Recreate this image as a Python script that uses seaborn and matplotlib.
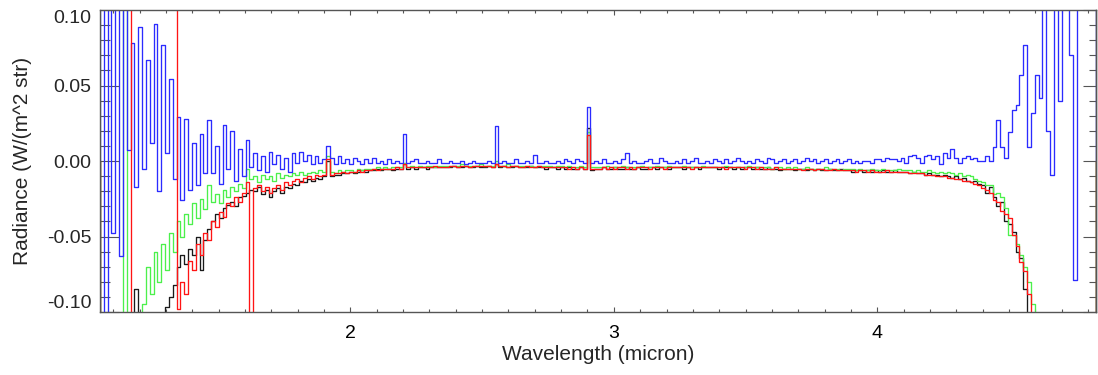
import numpy as np
import pandas as pd
import seaborn as sns
import matplotlib.pyplot as plt
from matplotlib.ticker import MultipleLocator

# Channel grid (micron): first visible channel starts at wl_start
wl_start = 1.05
wl_step = 0.014538
n_chan = 260

# Radiance per channel in 1e-3 W/(m^2 str); first and last entry are zero padding
black_mr = [0,
    -150, -150, -150, -150, -150, -150, -150, -150, -150, -85,
    -150, -150, -150, -150, -150, -150, -150, -97, -90, -82,
    -70, -62, -68, -58, -62, -50, -72, -52, -45, -40,
    -35, -38, -31, -29, -27, -30, -24, -23, -21, -19,
    -20, -17, -22, -19, -24, -20, -18, -21, -17, -18,
    -15, -16, -13, -14, -12, -13, -11, -12, -10, 0,
    -10, -9, -9, -8, -8, -7, -8, -7, -6, -7,
    -6, -6, -5, -6, -5, -5, -6, -5, -5, -2,
    -5, -4, -5, -4, -4, -5, -4, -4, -4, -4,
    -4, -4, -3, -4, -4, -3, -4, -4, -3, -4,
    -4, -3, -4, -2, -4, -3, -4, -4, -3, -4,
    -4, -4, -3, -4, -4, -4, -5, -4, -4, -5,
    -4, -5, -4, -5, -5, -4, -5, 22, -6, -5,
    -5, -4, -5, -5, -4, -5, -5, -4, -5, -5,
    -4, -5, -5, -4, -4, -5, -4, -4, -5, -4,
    -4, -4, -5, -4, -4, -4, -5, -4, -4, -4,
    -4, -5, -4, -4, -4, -5, -4, -5, -4, -4,
    -5, -4, -5, -5, -4, -5, -5, -6, -5, -5,
    -5, -6, -5, -5, -6, -5, -6, -5, -6, -6,
    -5, -6, -6, -5, -6, -6, -7, -6, -6, -7,
    -6, -7, -6, -7, -6, -7, -7, -6, -7, -7,
    -7, -8, -7, -8, -8, -9, -8, -9, -9, -10,
    -9, -10, -11, -10, -12, -11, -13, -14, -13, -15,
    -16, -21, -17, -24, -30, -27, -40, -42, -47, -60,
    -64, -85, -130, -150, -150, -150, -150, -150, -150, -150,
    -150, -150, -150, -150, -150, -150, -150, -150, -150, -150,
    0]

green_mr = [0,
    -150, -150, -150, -150, -150, -150, 150, -150, -150, -150,
    -150, -95, -70, -88, -60, -80, -55, -72, -48, -60,
    -40, -50, -35, -42, -28, -38, -25, -32, -16, -27,
    -22, -28, -19, -24, -17, -20, -15, -18, -5, -12,
    -10, -14, -9, -12, -10, -13, -8, -11, -9, -10,
    -8, -9, -7, -9, -8, -7, -8, -6, -7, 3,
    -7, -8, -6, -7, -6, -6, -7, -5, -6, -5,
    -5, -5, -4, -5, -4, -5, -4, -4, -4, -1,
    -4, -3, -4, -3, -4, -3, -3, -4, -3, -3,
    -3, -3, -3, -3, -2, -3, -3, -3, -3, -2,
    -3, -3, -3, 0, -3, -3, -2, -3, -3, -3,
    -3, -3, -3, -4, -3, -3, -3, -3, -4, -3,
    -3, -4, -3, -4, -4, -3, -4, 19, -4, -4,
    -4, -4, -3, -4, -4, -4, -3, -4, -4, -4,
    -4, -3, -4, -4, -4, -3, -4, -4, -3, -4,
    -4, -4, -3, -4, -4, -4, -4, -3, -4, -4,
    -4, -4, -4, -3, -4, -4, -4, -4, -4, -3,
    -4, -4, -4, -4, -4, -5, -4, -4, -5, -4,
    -5, -4, -5, -5, -4, -5, -5, -5, -5, -4,
    -5, -5, -5, -6, -5, -5, -5, -6, -5, -6,
    -6, -5, -6, -6, -5, -6, -6, -6, -5, -6,
    -6, -6, -7, -6, -7, -7, -6, -7, -8, -7,
    -8, -7, -8, -9, -8, -10, -9, -10, -12, -13,
    -14, -16, -16, -22, -21, -24, -31, -49, -49, -55,
    -62, -70, -80, -95, -130, -150, -150, -150, -150, -150,
    -150, -150, -150, -150, -150, -150, -150, -150, -150, -150,
    0]

blue_mr = [0,
    180, -160, 170, -48, 140, -63, 130, 7, 78, -17,
    89, -5, 67, 12, 91, -20, 77, 5, 54, -12,
    29, -26, 28, -19, 12, -16, 18, -8, 27, -8,
    10, -15, 24, -5, 20, -13, 8, -10, 14, -4,
    5, -6, 3, -7, 6, -2, 4, -5, 2, -7,
    5, -1, 6, 0, 4, -2, 3, -1, 1, 10,
    2, -2, 3, -1, 1, -2, 2, 0, -2, 1,
    -1, 2, -1, 0, -2, 1, -1, 0, -1, 18,
    -1, 0, 1, -1, -1, 0, -1, -1, 1, -1,
    -1, 0, -1, -1, 0, -2, -1, 0, -1, -1,
    -1, 0, -1, 23, -1, 0, -1, -1, 1, -1,
    -1, 0, -1, 4, -1, -1, 0, -1, -1, 0,
    -1, 1, 0, -1, 1, 0, -1, 36, -1, 0,
    -1, 1, -1, -1, 0, -1, 1, 5, -1, 0,
    -1, -1, 0, 1, -1, -1, 2, 0, -1, -1,
    0, -1, 1, -1, 0, 2, -1, -1, 0, -1,
    1, 0, -1, 1, -1, 0, 2, 0, -1, 0,
    -1, 1, 0, -1, 2, 1, -1, 0, 1, -1,
    0, 1, -1, 0, 2, 0, 1, -1, 0, 1,
    -1, 0, 1, -1, 0, 1, -1, 0, -1, 0,
    0, -1, 1, 1, 0, 2, 1, 1, 0, 2,
    -1, 3, 4, 2, -1, 3, 4, 1, 3, -2,
    5, 2, 8, 2, -1, 2, 3, 1, 2, 0,
    0, 3, 0, 9, 27, 9, 2, 19, 34, 37,
    57, 77, 9, 32, 57, 42, 130, 20, -9, 150,
    40, 150, 140, 70, -79, 150, 160, 150, 170, 150,
    0]

red_mr = [0,
    -150, -150, -150, -150, -150, -150, -150, -150, 150, 150,
    150, 150, 150, 150, 150, 150, 150, 150, 150, 150,
    -98, -80, -88, -66, -72, -55, -62, -48, -52, -40,
    -44, -34, -37, -28, -30, -24, -27, -21, -14, -150,
    -18, -16, -20, -17, -21, -18, -16, -19, -14, -16,
    -13, -12, -14, -11, -10, -12, -9, -10, -9, 1,
    -9, -8, -8, -7, -8, -7, -7, -6, -7, -6,
    -6, -5, -6, -5, -5, -5, -5, -4, -5, -2,
    -4, -4, -4, -4, -4, -4, -4, -3, -4, -4,
    -4, -3, -3, -4, -3, -3, -4, -3, -3, -3,
    -3, -3, -4, -2, -3, -3, -4, -3, -3, -4,
    -4, -3, -4, -4, -3, -4, -4, -4, -4, -4,
    -4, -4, -5, -4, -5, -4, -5, 17, -5, -5,
    -5, -4, -5, -4, -5, -4, -4, -5, -4, -5,
    -4, -4, -4, -5, -4, -4, -4, -5, -4, -4,
    -4, -4, -4, -4, -5, -4, -4, -4, -4, -4,
    -4, -4, -4, -5, -4, -4, -4, -4, -5, -4,
    -4, -5, -4, -5, -5, -5, -4, -5, -5, -5,
    -5, -5, -5, -6, -5, -5, -6, -5, -5, -6,
    -6, -5, -6, -6, -6, -6, -6, -7, -6, -6,
    -7, -6, -7, -7, -7, -6, -7, -7, -7, -7,
    -7, -8, -8, -8, -8, -9, -9, -9, -10, -10,
    -10, -11, -11, -12, -12, -13, -13, -14, -15, -16,
    -18, -19, -21, -26, -27, -33, -35, -38, -49, -56,
    -67, -73, -88, -130, -150, -150, -150, -150, -150, -150,
    -150, -150, -150, -150, -150, -150, -150, -150, -150, -150,
    0]

series_names = ['black', 'green', 'blue', 'red']
series_colors = {'black': '#1a1a1a', 'green': '#4cf04c', 'blue': '#2b2bff', 'red': '#ff1414'}

# channel centres, including one padding channel on each side
centers = wl_start + wl_step * (np.arange(n_chan + 2) - 0.5)

frames = []
for name, vals in zip(series_names, [black_mr, green_mr, blue_mr, red_mr]):
    frames.append(pd.DataFrame({
        'Wavelength': centers,
        'Radiance': np.array(vals) / 1000.0,
        'series': name,
    }))
data = pd.concat(frames, ignore_index=True)

sns.set_style("white")
plt.rcParams['font.family'] = ['Liberation Sans', 'DejaVu Sans']

fig = plt.figure(figsize=(10.98, 3.75), dpi=100)
ax = fig.add_axes([100 / 1098, 1 - 312 / 375, 996 / 1098, 302 / 375])

sns.lineplot(data=data, x='Wavelength', y='Radiance', hue='series',
             hue_order=series_names, palette=series_colors,
             estimator=None, sort=False, legend=False,
             drawstyle='steps-mid', linewidth=0.95, ax=ax)

ax.set_xlim(wl_start, wl_start + wl_step * n_chan)
ax.set_ylim(-0.10, 0.10)

ax.set_xticks([2, 3, 4])
ax.set_xticklabels(['2', '3', '4'])
ax.xaxis.set_minor_locator(MultipleLocator(0.1))
ax.set_yticks([-0.10, -0.05, 0.0, 0.05, 0.10])
ax.set_yticklabels(['-0.10', '-0.05', '0.00', '0.05', '0.10'])
ax.yaxis.set_minor_locator(MultipleLocator(0.01))

tick_col = '#555555'
ax.tick_params(axis='x', which='major', direction='in', length=3.8, width=0.8,
               top=True, bottom=True, pad=9, labelsize=14, colors='black', color=tick_col)
ax.tick_params(axis='x', which='minor', direction='in', length=2.0, width=0.8,
               top=True, bottom=True, color=tick_col)
ax.tick_params(axis='y', which='major', direction='in', length=14, width=0.8,
               left=True, right=False, pad=6, labelsize=14, color=tick_col)
ax.tick_params(axis='y', which='minor', direction='in', length=7, width=0.8,
               left=True, right=False, color=tick_col)

# end labels sit inside the frame, as in the original
ytl = ax.yaxis.get_major_ticks()
ytl[0].label1.set_va('bottom')
ytl[-1].label1.set_va('top')

sec = ax.secondary_yaxis('right')
sec.yaxis.set_major_locator(MultipleLocator(0.05))
sec.yaxis.set_minor_locator(MultipleLocator(0.01))
sec.tick_params(which='major', direction='in', length=9.4, width=0.8, color=tick_col, labelright=False)
sec.tick_params(which='minor', direction='in', length=5, width=0.8, color=tick_col)
sec.spines['right'].set_color(tick_col)
sec.spines['right'].set_linewidth(1.0)

for spine in ax.spines.values():
    spine.set_edgecolor(tick_col)
    spine.set_linewidth(1.0)

ax.set_xlabel('Wavelength (micron)', fontsize=15)
ax.set_ylabel('Radiance (W/(m^2 str)', fontsize=15)
ax.xaxis.set_label_coords(0.5, -0.142)
ax.xaxis.label.set_va('center')
ax.yaxis.set_label_coords(-0.0783, 0.5)
ax.yaxis.label.set_va('center')
ax.yaxis.label.set_ha('center')

fig.savefig('out.png', dpi=100)
